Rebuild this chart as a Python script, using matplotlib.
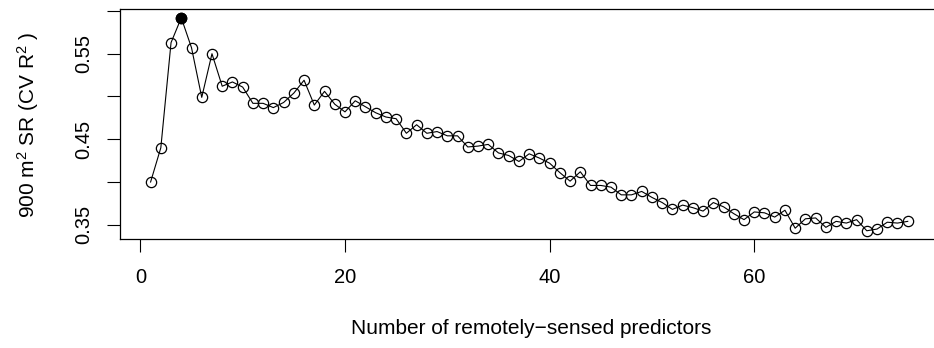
import numpy as np
import matplotlib
matplotlib.use("Agg")
import matplotlib.pyplot as plt

# ===== FONTS =====
plt.rcParams["font.family"] = ["Liberation Sans", "DejaVu Sans"]
plt.rcParams["mathtext.fontset"] = "custom"
plt.rcParams["mathtext.rm"] = "Liberation Sans"
plt.rcParams["mathtext.it"] = "Liberation Sans"

# ===== DATA =====
n_predictors = list(range(1, 76))
cv_r2 = [
    0.400, 0.440, 0.563, 0.592, 0.557, 0.499, 0.550, 0.512, 0.517, 0.511,
    0.492, 0.492, 0.487, 0.493, 0.504, 0.519, 0.490, 0.506, 0.491, 0.482,
    0.495, 0.488, 0.481, 0.476, 0.474, 0.457, 0.467, 0.457, 0.459, 0.454,
    0.454, 0.441, 0.442, 0.444, 0.434, 0.431, 0.424, 0.433, 0.428, 0.422,
    0.411, 0.401, 0.412, 0.396, 0.396, 0.394, 0.385, 0.385, 0.389, 0.382,
    0.376, 0.368, 0.373, 0.370, 0.366, 0.376, 0.371, 0.363, 0.356, 0.365,
    0.364, 0.359, 0.367, 0.346, 0.357, 0.358, 0.347, 0.354, 0.352, 0.356,
    0.343, 0.345, 0.353, 0.352, 0.354,
]
best_n = 4

y_ticks = [0.35, 0.40, 0.45, 0.50, 0.55, 0.60]
y_tick_labels = ["0.35", "", "0.45", "", "0.55", ""]
x_ticks = [0, 20, 40, 60]

# ============================
# CV R2 VS NUMBER OF PREDICTORS
# ============================
fig = plt.figure(figsize=(9.34, 3.48), dpi=100)
ax = fig.add_axes([0.1288, 0.3124, 0.8755, 0.6609])

# line runs through open circles (type "o")
ax.plot(n_predictors, cv_r2, color="black", linewidth=0.8, marker="o",
        markersize=7.4, markerfacecolor="none", markeredgecolor="black",
        markeredgewidth=0.9)
ax.plot(best_n, cv_r2[best_n - 1], marker="o", markersize=7.4,
        color="black", linestyle="none")

# R-style 4% padding on both axes
x = np.array(n_predictors)
y = np.array(cv_r2)
xpad = 0.04 * (x.max() - x.min())
ypad = 0.04 * (y.max() - y.min())
ax.set_xlim(x.min() - xpad, x.max() + xpad)
ax.set_ylim(y.min() - ypad, y.max() + ypad)

ax.set_xticks(x_ticks)
ax.set_xticklabels([str(t) for t in x_ticks])
ax.set_yticks(y_ticks)
ax.set_yticklabels(y_tick_labels, rotation=90, va="center")

ax.tick_params(axis="both", length=9.7, width=0.8, labelsize=14.5,
               direction="out")
ax.tick_params(axis="x", pad=11)
ax.tick_params(axis="y", pad=10)
for spine in ax.spines.values():
    spine.set_linewidth(0.9)

fig.text(0.5685, 1 - 328 / 348, "Number of remotely\u2212sensed predictors",
         ha="center", va="center", fontsize=15)
fig.text(28 / 934, 1 - 125 / 348, "900 m$^2$ SR (CV R$^2$ )",
         ha="center", va="center", rotation=90, fontsize=15)

fig.savefig("out.png", dpi=100)
plt.close()
